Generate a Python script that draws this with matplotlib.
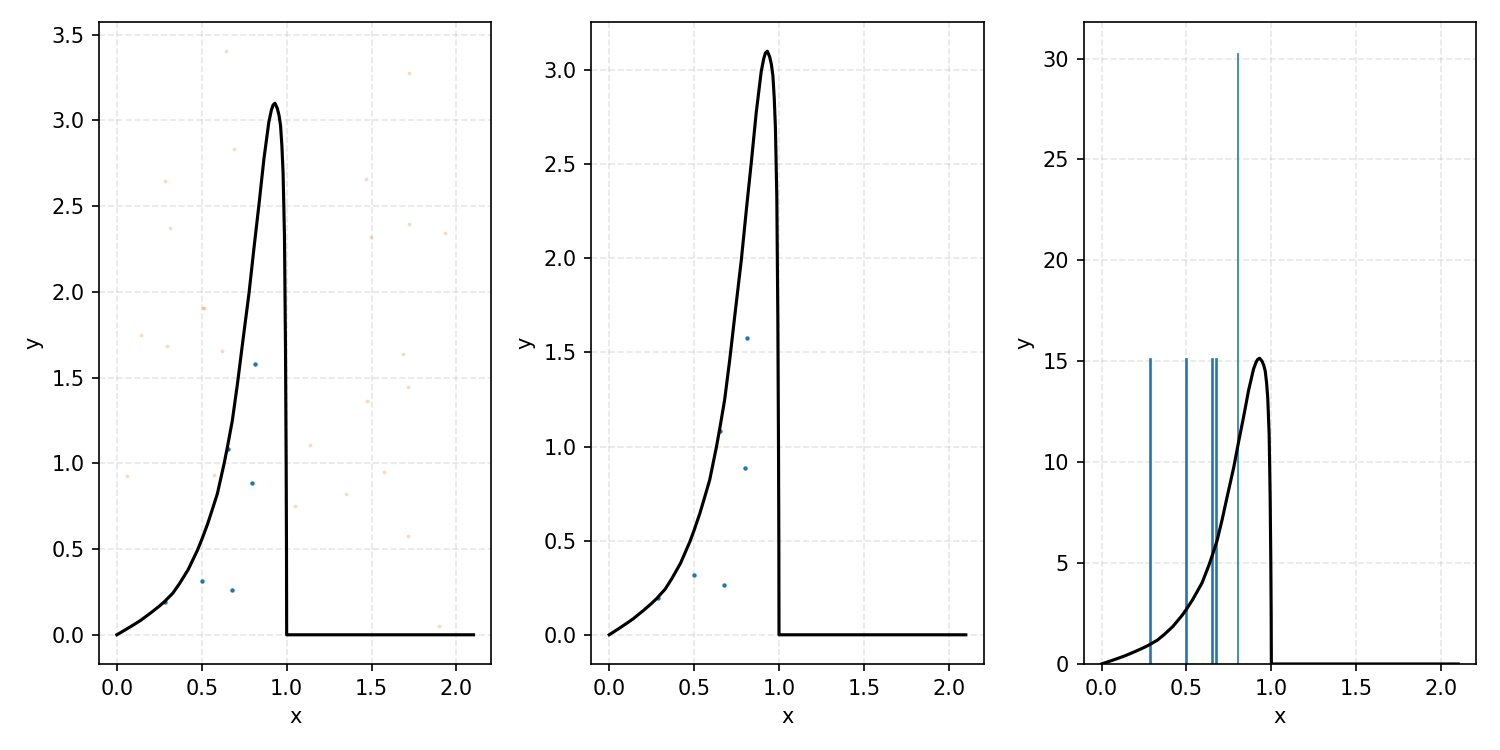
import numpy as np
import matplotlib
matplotlib.use("Agg")
from matplotlib import pyplot as plt

# Target density (x, y).
curve_x = [0.0, 0.05, 0.10, 0.14, 0.20, 0.25, 0.28, 0.33, 0.37, 0.42, 0.475, 0.50,
           0.534, 0.562, 0.592, 0.632, 0.653, 0.68, 0.71, 0.739, 0.778, 0.808, 0.837, 0.866,
           0.895, 0.91, 0.92, 0.931, 0.945, 0.955, 0.964, 0.972, 0.979, 0.987,
           0.993, 0.997, 0.999, 1.0, 2.1]
curve_y = [0.0, 0.029, 0.059, 0.084, 0.128, 0.167, 0.193, 0.243, 0.30, 0.38, 0.494, 0.555,
           0.645, 0.73, 0.823, 1.0, 1.105, 1.249, 1.462, 1.69, 1.99, 2.26, 2.51, 2.775,
           2.99, 3.06, 3.09, 3.10, 3.07, 3.03, 2.97, 2.85, 2.69, 2.33,
           1.69, 1.0, 0.5, 0.0, 0.0]

# Accepted samples.
acc_x = [0.286, 0.500, 0.676, 0.653, 0.798, 0.811]
acc_y = [0.193, 0.315, 0.262, 1.082, 0.885, 1.577]

# Rejected samples (faint, left panel only).
rej_x = [0.142, 0.294, 0.622, 1.687, 1.716, 1.471, 1.137, 1.575, 0.060, 0.575,
         1.349, 1.049, 1.716, 1.897, 0.644, 1.720, 0.690, 0.283, 1.468, 0.312,
         1.720, 1.932, 1.498, 0.505, 0.515]
rej_y = [1.751, 1.686, 1.657, 1.640, 1.447, 1.365, 1.108, 0.950, 0.927, 0.933,
         0.822, 0.752, 0.577, 0.051, 3.404, 3.275, 2.831, 2.644, 2.656, 2.375,
         2.393, 2.346, 2.323, 1.904, 1.904]

# Histogram of accepted x (right panel).
bar_x = [0.2865, 0.497, 0.649, 0.672, 0.801]
bar_h = [15.15, 15.15, 15.15, 15.15, 30.3]
bar_w = 0.011
hist_curve_scale = 4.887  # density curve scaled to the histogram

fig, axes = plt.subplots(1, 3, figsize=(10, 5), dpi=150)
fig.subplots_adjust(left=0.066, right=0.984, top=0.9707, bottom=0.1147, wspace=0.255)

ax = axes[0]
ax.plot(curve_x, curve_y, color='black', lw=1.5)
ax.scatter(rej_x, rej_y, s=3, color='C1', alpha=0.3, linewidths=0)
ax.scatter(acc_x, acc_y, s=4.5, color='C0', linewidths=0)

ax = axes[1]
ax.plot(curve_x, curve_y, color='black', lw=1.5)
ax.scatter(acc_x, acc_y, s=4.5, color='C0', linewidths=0)

ax = axes[2]
ax.bar(bar_x, bar_h, width=bar_w, color='C0', edgecolor='C0', linewidth=0.3)
ax.plot(curve_x, np.array(curve_y) * hist_curve_scale, color='black', lw=1.5)

for ax in axes:
    ax.set_xlabel('x')
    ax.set_ylabel('y')
    ax.grid(True, linestyle='--', alpha=0.3)
    ax.set_axisbelow(True)

plt.savefig('out.png')
